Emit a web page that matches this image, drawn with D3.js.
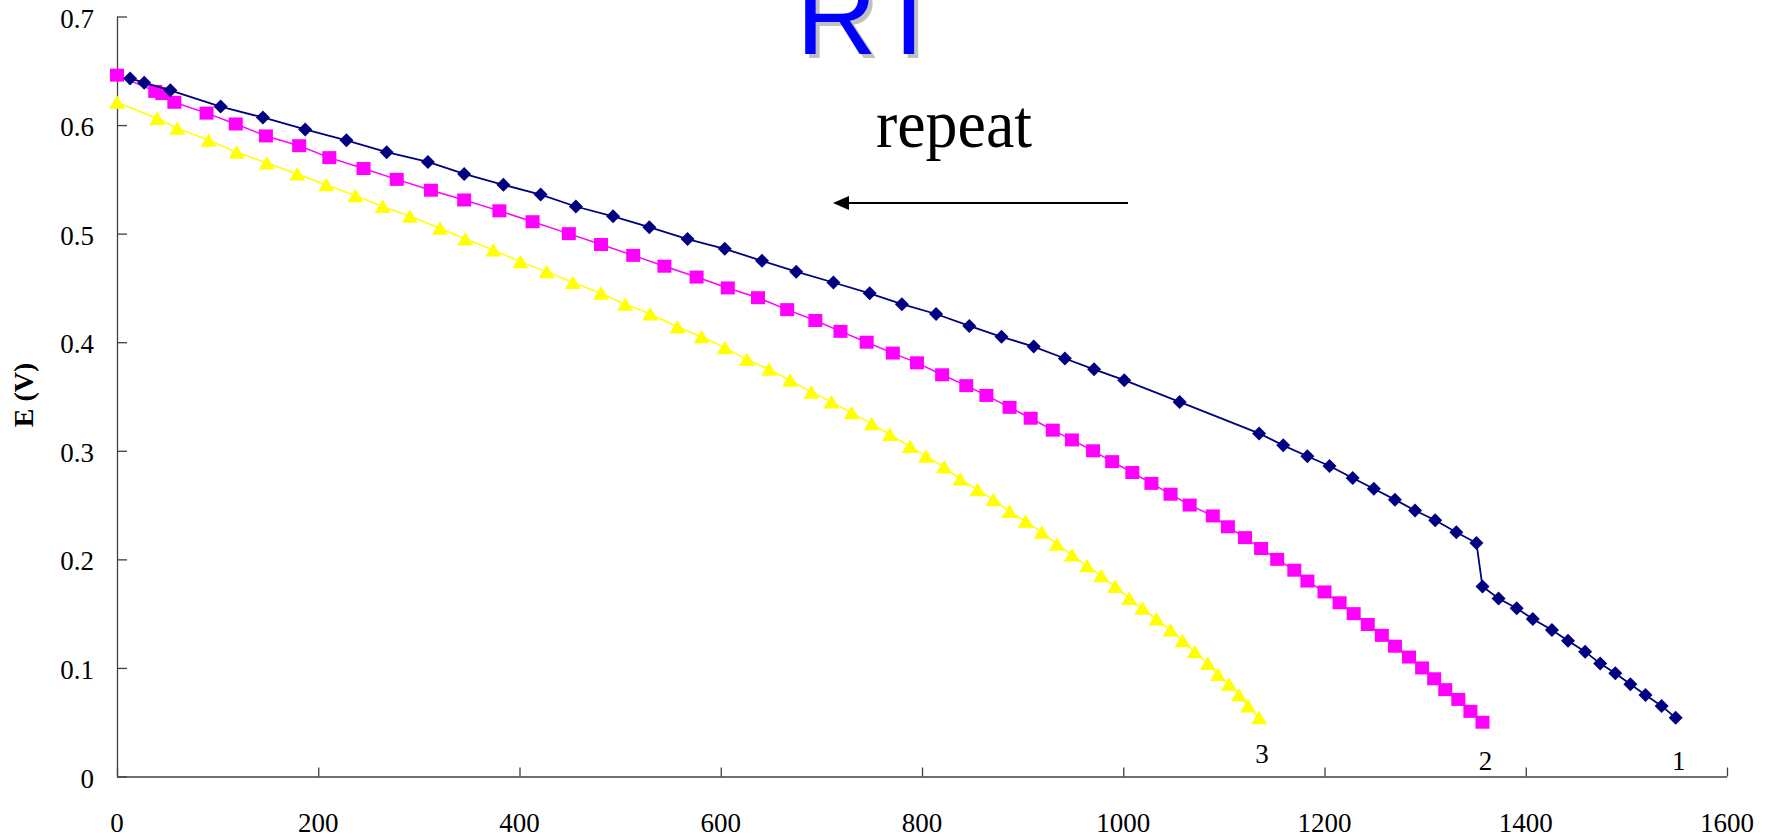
<!DOCTYPE html>
<html>
<head>
<meta charset="utf-8">
<script src="https://cdn.jsdelivr.net/npm/d3@7"></script>
<style>
  html, body { margin: 0; padding: 0; background: #fff; }
  svg { display: block; }
</style>
</head>
<body>
<div id="chart"></div>
<script>
// discharge curves, time on x, potential on y
var x_ticks = [0, 200, 400, 600, 800, 1000, 1200, 1400, 1600];
var y_ticks = [0, 0.1, 0.2, 0.3, 0.4, 0.5, 0.6, 0.7];
var series_names = ["1", "2", "3"];

var s1_x = [13, 27, 53, 103, 145, 187, 228, 268, 309, 345, 384, 421, 456, 493, 529,
            567, 604, 641, 675, 712, 748, 780, 814, 847, 879, 911, 942, 971, 1001, 1056,
            1135, 1159, 1183, 1205, 1228, 1249, 1270, 1290, 1310, 1331, 1351, 1357, 1373,
            1391, 1407, 1426, 1442, 1459, 1474, 1489, 1504, 1519, 1535, 1549];
var s1_y = [0.643, 0.639, 0.632, 0.617, 0.607, 0.596, 0.586, 0.575, 0.566, 0.555,
            0.545, 0.536, 0.525, 0.516, 0.506, 0.495, 0.486, 0.475, 0.465, 0.455,
            0.445, 0.435, 0.426, 0.415, 0.405, 0.396, 0.385, 0.375, 0.365, 0.345,
            0.316, 0.305, 0.295, 0.286, 0.275, 0.265, 0.255, 0.245, 0.236, 0.225,
            0.215, 0.175, 0.164, 0.155, 0.145, 0.135, 0.125, 0.115, 0.104, 0.095,
            0.085, 0.075, 0.065, 0.054];

var s2_x = [0, 38, 45, 57, 89, 118, 148, 181, 211, 245, 278, 312, 345, 380, 413,
            449, 481, 513, 544, 576, 607, 637, 666, 694, 719, 745, 771, 795, 820, 844,
            864, 887, 908, 930, 949, 970, 989, 1009, 1028, 1047, 1066, 1089, 1104, 1121,
            1137, 1153, 1170, 1183, 1200, 1215, 1229, 1243, 1257, 1270, 1284, 1297, 1309,
            1320, 1333, 1345, 1357];
var s2_y = [0.646, 0.631, 0.629, 0.621, 0.611, 0.601, 0.590, 0.581, 0.570, 0.560,
            0.550, 0.540, 0.531, 0.521, 0.511, 0.500, 0.490, 0.480, 0.470, 0.460,
            0.450, 0.441, 0.430, 0.420, 0.410, 0.400, 0.390, 0.381, 0.370, 0.360,
            0.351, 0.340, 0.330, 0.319, 0.310, 0.300, 0.290, 0.280, 0.270, 0.260,
            0.250, 0.240, 0.230, 0.220, 0.210, 0.200, 0.190, 0.180, 0.170, 0.160,
            0.150, 0.140, 0.130, 0.120, 0.110, 0.100, 0.090, 0.080, 0.071, 0.060,
            0.050];

var s3_x = [0, 40, 60, 91, 119, 149, 179, 208, 237, 264, 291, 321, 346, 374, 401,
            427, 453, 481, 505, 530, 557, 581, 604, 626, 648, 669, 690, 710, 730, 750,
            768, 788, 804, 822, 838, 855, 871, 887, 903, 919, 934, 949, 964, 978, 992,
            1006, 1019, 1033, 1047, 1059, 1071, 1084, 1094, 1105, 1115, 1124, 1135];
var s3_y = [0.621, 0.606, 0.597, 0.586, 0.575, 0.565, 0.555, 0.545, 0.535, 0.525,
            0.516, 0.505, 0.495, 0.485, 0.474, 0.465, 0.455, 0.445, 0.435, 0.426,
            0.414, 0.405, 0.395, 0.384, 0.375, 0.365, 0.354, 0.345, 0.335, 0.325,
            0.315, 0.304, 0.295, 0.285, 0.274, 0.264, 0.255, 0.244, 0.235, 0.225,
            0.214, 0.204, 0.194, 0.185, 0.175, 0.164, 0.155, 0.145, 0.135, 0.125,
            0.115, 0.104, 0.094, 0.085, 0.075, 0.065, 0.054];

var W = 1771, H = 838;
var margin = {left: 117, right: 44, top: 16.5, bottom: 61.5};

var svg = d3.select("#chart").append("svg")
    .attr("width", W)
    .attr("height", H);

var x = d3.scaleLinear().domain([0, 1600]).range([margin.left, W - margin.right]);
var y = d3.scaleLinear().domain([0, 0.7]).range([H - margin.bottom, margin.top]);

var serif = "'Liberation Serif', 'Times New Roman', serif";
var axis_color = "#404040";

// y axis, ticks inside
var yAxis = svg.append("g")
    .attr("transform", "translate(" + x(0) + ",0)")
    .call(d3.axisRight(y).tickValues(y_ticks).tickSize(10).tickFormat(""));
yAxis.select(".domain").attr("d", "M0.5," + y(0.7) + "V" + y(0))
    .attr("stroke", axis_color).attr("stroke-width", 1.3);
yAxis.selectAll(".tick line").attr("stroke", axis_color).attr("stroke-width", 1.3);

svg.append("g").selectAll("text")
    .data(y_ticks)
    .join("text")
    .attr("x", x(0) - 23)
    .attr("y", function(d){ return y(d) + 11; })
    .attr("text-anchor", "end")
    .attr("font-family", serif)
    .attr("font-size", 27)
    .text(function(d){ return d === 0 ? "0" : d3.format(".1f")(d); });

// x axis, ticks inside
var xAxis = svg.append("g")
    .attr("transform", "translate(0," + y(0) + ")")
    .call(d3.axisTop(x).tickValues(x_ticks).tickSize(9).tickFormat(""));
xAxis.select(".domain").attr("d", "M" + x(0) + ",0.5H" + x(1600))
    .attr("stroke", axis_color).attr("stroke-width", 1.3);
xAxis.selectAll(".tick line").attr("stroke", axis_color).attr("stroke-width", 1.3);

svg.append("g").selectAll("text")
    .data(x_ticks)
    .join("text")
    .attr("x", function(d){ return x(d); })
    .attr("y", y(0) + 55)
    .attr("text-anchor", "middle")
    .attr("font-family", serif)
    .attr("font-size", 27)
    .text(function(d){ return d; });

// y title
svg.append("text")
    .attr("transform", "translate(33,395) rotate(-90)")
    .attr("text-anchor", "middle")
    .attr("font-family", serif)
    .attr("font-weight", "bold")
    .attr("font-size", 28)
    .text("E (V)");

function zip(xs, ys){
    return xs.map(function(v, i){ return [v, ys[i]]; });
}

var series = [
    {name: series_names[0], pts: zip(s1_x, s1_y), color: "#000080", width: 1.8, shape: "diamond", labelDy: -7},
    {name: series_names[1], pts: zip(s2_x, s2_y), color: "#FF00FF", width: 1.5, shape: "square", labelDy: -7},
    {name: series_names[2], pts: zip(s3_x, s3_y), color: "#FFFF00", width: 1.5, shape: "triangle", labelDy: -14}
];

var line = d3.line()
    .x(function(d){ return x(d[0]); })
    .y(function(d){ return y(d[1]); });

var shapes = {
    diamond: "M0,-7L7,0L0,7L-7,0Z",
    square: "M-7,-6.5L7,-6.5L7,6.5L-7,6.5Z",
    triangle: "M0,-7L8,6.5L-8,6.5Z"
};

// later series first so series 1 sits on top
series.slice().reverse().forEach(function(s){
    var g = svg.append("g");
    g.append("path")
        .datum(s.pts)
        .attr("fill", "none")
        .attr("stroke", s.color)
        .attr("stroke-width", s.width)
        .attr("d", line);
    g.selectAll("path.mk")
        .data(s.pts)
        .join("path")
        .attr("class", "mk")
        .attr("transform", function(d){ return "translate(" + x(d[0]) + "," + y(d[1]) + ")"; })
        .attr("d", shapes[s.shape])
        .attr("fill", s.color);
});

// curve numbers under the end of each curve
svg.append("g").selectAll("text")
    .data(series)
    .join("text")
    .attr("x", function(s){ return x(s.pts[s.pts.length - 1][0]) + 3; })
    .attr("y", function(s){ return y(0) + s.labelDy; })
    .attr("text-anchor", "middle")
    .attr("font-family", serif)
    .attr("font-size", 27)
    .text(function(s){ return s.name; });

// title with drop shadow, cut by the top edge as in the source
var sans = "'Liberation Sans', Arial, sans-serif";
svg.append("text")
    .attr("x", 800).attr("y", 57.5)
    .attr("font-family", sans).attr("font-size", 112)
    .attr("fill", "#c0c0c0")
    .text("RT");
svg.append("text")
    .attr("x", 796).attr("y", 53.5)
    .attr("font-family", sans).attr("font-size", 112)
    .attr("fill", "#0000FF")
    .text("RT");

// "repeat" note with arrow pointing left
svg.append("text")
    .attr("x", 954).attr("y", 147)
    .attr("text-anchor", "middle")
    .attr("font-family", serif)
    .attr("font-size", 68)
    .attr("textLength", 156)
    .attr("lengthAdjust", "spacingAndGlyphs")
    .text("repeat");

svg.append("line")
    .attr("x1", 1128).attr("y1", 203)
    .attr("x2", 846).attr("y2", 203)
    .attr("stroke", "#000").attr("stroke-width", 2);
svg.append("path")
    .attr("d", "M833,203L849,196L849,210Z")
    .attr("fill", "#000");
</script>
</body>
</html>
